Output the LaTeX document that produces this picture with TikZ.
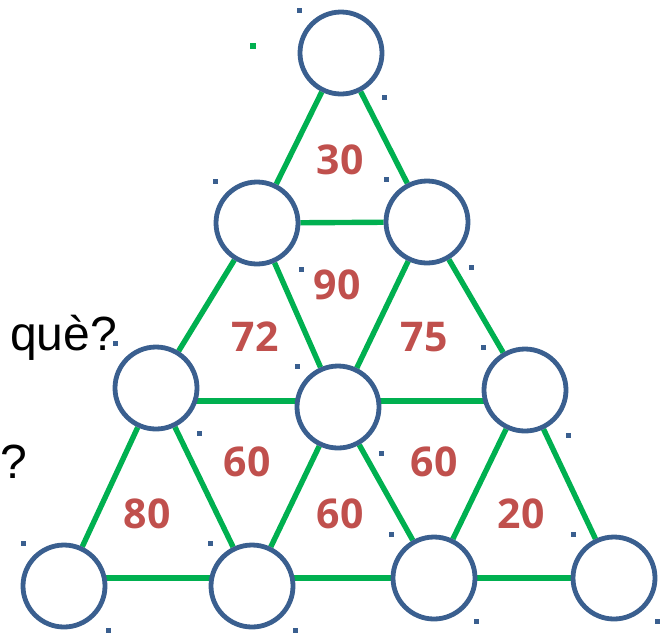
\documentclass[tikz,border=0pt]{standalone}
\usepackage{fontspec}
\setmainfont{Liberation Sans}
\newfontfamily\numfont{Open Sans}
\usetikzlibrary{backgrounds}
\definecolor{cblue}{HTML}{3A5F8F}
\definecolor{cgreen}{HTML}{00B050}
\definecolor{cred}{HTML}{C0504D}
\tikzset{
  ring/.style={circle, draw=cblue, line width=4.8pt, fill=white, minimum size=82pt, inner sep=0pt},
  edge/.style={draw=cgreen, line width=5.4pt},
  num/.style={font=\numfont\bfseries\fontsize{41}{41}\selectfont, text=cred, inner sep=0pt},
  dotb/.style={fill=cblue, minimum size=5pt, inner sep=0pt, draw=none},
  dotg/.style={fill=cgreen, minimum size=6pt, inner sep=0pt, draw=none},
  lbl/.style={font=\fontsize{48}{48}\selectfont, inner sep=0pt, anchor=base west}
}
\begin{document}
\begin{tikzpicture}[x=1pt, y=-1pt]
\useasboundingbox (0,0) rectangle (671,633);
% circles
\node[ring] (t)  at (341,53) {};
\node[ring] (bl) at (257,223) {};
\node[ring] (br) at (427,222) {};
\node[ring] (cl) at (156,388) {};
\node[ring] (cm) at (338,407) {};
\node[ring] (cr) at (525,390) {};
\node[ring] (d1) at (64,586) {};
\node[ring] (d2) at (252,586) {};
\node[ring] (d3) at (434,578) {};
\node[ring] (d4) at (614,578) {};
% connectors
\begin{scope}[on background layer]
\path[edge] (t) -- (bl);
\path[edge] (t) -- (br);
\path[edge] (bl) -- (br);
\path[edge] (bl) -- (cl);
\path[edge] (bl) -- (cm);
\path[edge] (br) -- (cm);
\path[edge] (br) -- (cr);
\path[edge] ([yshift=-13pt]cl.center) -- ([yshift=-11pt]cr.center);
\path[edge] (cl) -- (d1);
\path[edge] (cl) -- (d2);
\path[edge] (cm) -- (d2);
\path[edge] (cm) -- (d3);
\path[edge] (cr) -- (d3);
\path[edge] (cr) -- (d4);
\path[edge] ([yshift=8pt]d1.center) -- (d4);
\end{scope}
% numbers
\node[num] (n30) at (340,160) {30};
\node[num] (n90) at (337,285) {90};
\node[num] (n72) at (255,337) {72};
\node[num] (n75) at (424,337) {75};
\node[num] (n60a) at (247,462) {60};
\node[num] (n60b) at (434,462) {60};
\node[num] (n80) at (147,514) {80};
\node[num] (n60c) at (340,514) {60};
\node[num] (n20) at (521,514) {20};
% labels
\node[lbl] (que) at (10,350) {què?};
\node[lbl] (q2) at (0,478) {?};
% small dots
\node[dotb] (s1) at (299,10) {};
\node[dotg] (s2) at (253,46) {};
\node[dotb] (s3) at (384,97) {};
\node[dotb] (s4) at (215,181) {};
\node[dotb] (s5) at (386,179) {};
\node[dotb] (s6) at (301,269) {};
\node[dotb] (s7) at (471,267) {};
\node[dotb] (s8) at (115,343) {};
\node[dotb] (s9) at (297,366) {};
\node[dotb] (s10) at (483,347) {};
\node[dotb] (s11) at (199,433) {};
\node[dotb] (s12) at (381,453) {};
\node[dotb] (s13) at (568,435) {};
\node[dotb] (s14) at (23,543) {};
\node[dotb] (s15) at (210,543) {};
\node[dotb] (s16) at (391,534) {};
\node[dotb] (s17) at (573,534) {};
\node[dotb] (s18) at (108,630) {};
\node[dotb] (s19) at (295,630) {};
\node[dotb] (s20) at (476,621) {};
\node[dotb] (s21) at (657,621) {};
\end{tikzpicture}
\end{document}
